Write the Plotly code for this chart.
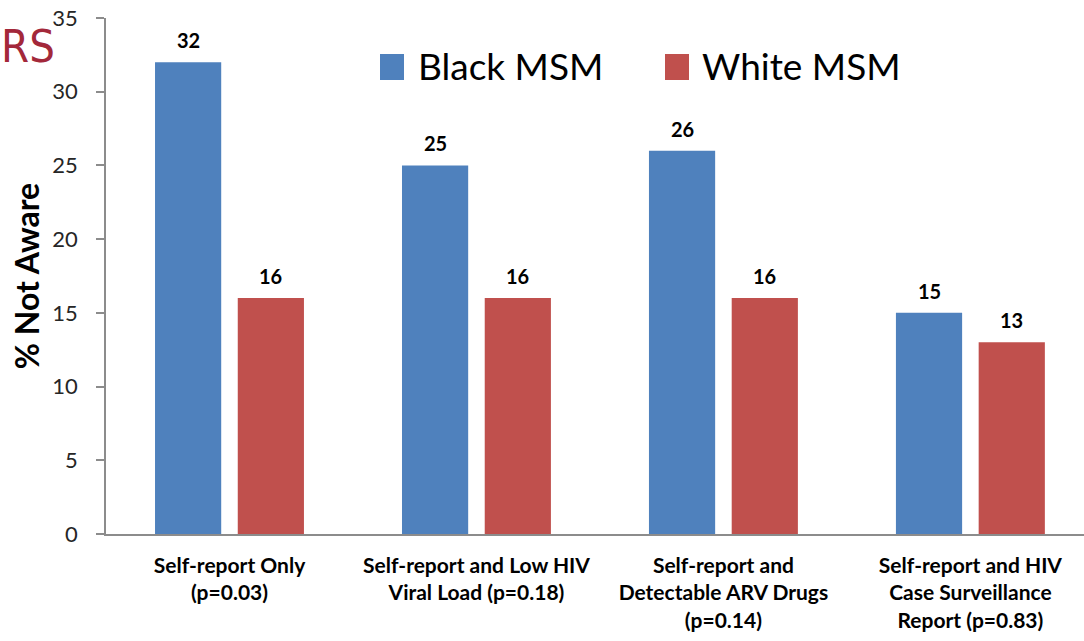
import plotly.graph_objects as go

# Awareness of HIV infection by testing definition
categories = [
    "Self-report Only<br>(p=0.03)",
    "Self-report and Low HIV<br>Viral Load (p=0.18)",
    "Self-report and<br>Detectable ARV Drugs<br>(p=0.14)",
    "Self-report and HIV<br>Case Surveillance<br>Report (p=0.83)",
]
black_msm = [32, 25, 26, 15]
white_msm = [16, 16, 16, 13]
series_names = ["Black MSM", "White MSM"]
series_colors = ["#4F81BD", "#C0504D"]
y_ticks = [0, 5, 10, 15, 20, 25, 30, 35]

W, H = 1084, 641
L, R, T, B = 106, 0, 18, 107
PW, PH = W - L - R, H - T - B
X_RANGE = [-0.5, 3.46]
BARGAP, GROUPGAP = 0.33, 0.2


def px_x(x):
    return (x - L) / PW


def px_y(y):
    return (H - B - y) / PH


FONT = "Lato"
fig = go.Figure()
for name, vals, col in zip(series_names, [black_msm, white_msm], series_colors):
    fig.add_trace(go.Bar(
        x=categories, y=vals, name=name, marker_color=col,
        marker_line_width=0, showlegend=False,
    ))

# value labels above each bar, shifted onto the centre of each bar slot
slot = PW / (X_RANGE[1] - X_RANGE[0]) * (1 - BARGAP) / 2
for i, vals in enumerate([black_msm, white_msm]):
    off = (i - 0.5) * slot
    for c, v in zip(categories, vals):
        fig.add_annotation(
            x=c, y=v, text=f"<b>{v}</b>", showarrow=False,
            xshift=off, yshift=22, yanchor="middle",
            font=dict(family=FONT, size=20, color="#000000"),
        )

# legend keys
legend_items = [(380, 416), (665, 700)]
for (sx, tx), name, col in zip(legend_items, series_names, series_colors):
    fig.add_shape(type="rect", xref="paper", yref="paper",
                  x0=px_x(sx), x1=px_x(sx + 24), y0=px_y(80), y1=px_y(54),
                  fillcolor=col, line_width=0)
    fig.add_annotation(xref="paper", yref="paper", x=px_x(tx), y=px_y(65),
                       text=name, showarrow=False, xanchor="left", yanchor="middle",
                       font=dict(family=FONT, size=37, color="#000000"))

# fragment of the slide title at the top-left corner
fig.add_annotation(xref="paper", yref="paper", x=px_x(57), y=px_y(47),
                   text="RS", showarrow=False, xanchor="right", yanchor="middle",
                   font=dict(family="DejaVu Sans Condensed", size=45, color="#A3283A"))

fig.update_layout(
    width=W, height=H,
    margin=dict(l=L, r=R, t=T, b=B, pad=0),
    paper_bgcolor="white", plot_bgcolor="white",
    barmode="group", bargap=BARGAP, bargroupgap=GROUPGAP,
    font=dict(family=FONT, color="#000000"),
)
fig.update_xaxes(
    range=X_RANGE, showgrid=False, showline=True, linecolor="#8C8C8C",
    linewidth=1.5, ticks="", ticklabelstandoff=12,
    tickfont=dict(family=FONT, size=21, color="#000000", weight="bold"),
    tickangle=0,
)
fig.update_yaxes(
    range=[0, 35], tickvals=y_ticks, showgrid=False, zeroline=False,
    showline=True, linecolor="#8C8C8C", linewidth=1.5,
    ticks="outside", ticklen=8, tickcolor="#8C8C8C", tickwidth=1.5,
    ticklabelstandoff=14,
    tickfont=dict(family=FONT, size=22, color="#262626"),
    title=dict(text="<b>% Not Aware</b>", font=dict(family=FONT, size=32, color="#000000"),
               standoff=3),
)
fig.write_html("out.html")
